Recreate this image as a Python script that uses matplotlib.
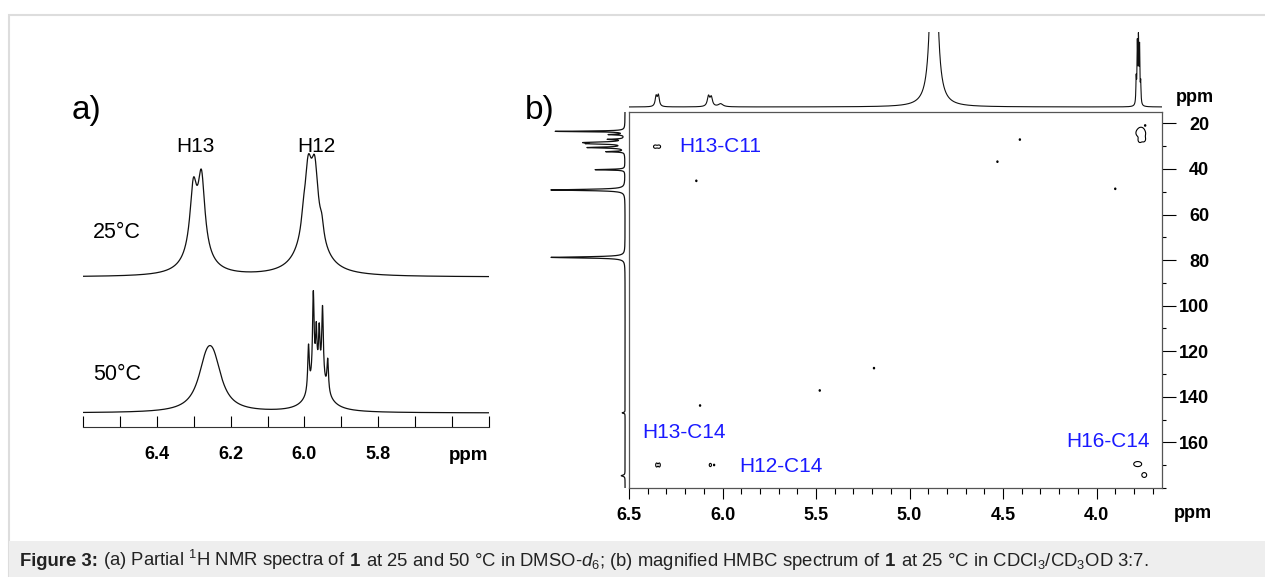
import numpy as np
import matplotlib
matplotlib.use("Agg")
import matplotlib.pyplot as plt
from matplotlib.patches import Rectangle
from matplotlib.ticker import MultipleLocator, FixedLocator

W, H = 1265, 577

plt.rcParams['font.family'] = ['Liberation Sans', 'DejaVu Sans']
plt.rcParams['mathtext.fontset'] = 'custom'
plt.rcParams['mathtext.rm'] = 'Liberation Sans'
plt.rcParams['mathtext.it'] = 'Liberation Sans:italic'
plt.rcParams['mathtext.bf'] = 'Liberation Sans:bold'

# ---- panel a: partial 1H spectra, peaks as (shift ppm, height, fwhm ppm)
a25_shift = [6.301, 6.279, 6.290, 5.990, 5.972, 5.981, 6.003, 5.953]
a25_height = [62, 72, 24, 60, 60, 45, 12, 14]
a25_width = [0.022, 0.022, 0.075, 0.022, 0.022, 0.075, 0.012, 0.012]

a50_shift = [6.266, 6.246, 5.989, 5.976, 5.968, 5.960, 5.951, 5.937, 5.963]
a50_height = [38, 38, 45, 85, 40, 40, 70, 32, 40]
a50_width = [0.055, 0.055, 0.005, 0.005, 0.004, 0.004, 0.005, 0.005, 0.05]

a_baselines = [150, 14]
a_temps = ["25\u00b0C", "50\u00b0C"]
a_peak_labels = ["H13", "H12"]
a_peak_label_ppm = [6.295, 5.969]
a_major = [6.4, 6.2, 6.0, 5.8]

# ---- panel b: HMBC, 1H projection on top
top_shift = [6.355, 6.343, 6.075, 6.060, 6.010, 4.870, 3.788, 3.782, 3.776, 3.770, 3.764]
top_height = [10, 11, 10, 9, 3, 400, 25, 58, 62, 56, 20]
top_width = [0.012, 0.012, 0.015, 0.015, 0.03, 0.025, 0.004, 0.004, 0.004, 0.004, 0.004]

# 13C projection on the left (shift ppm, length, fwhm ppm)
left_shift = [23.5, 24.9, 27.0, 28.4, 28.9, 30.6, 32.4, 40.3, 49.2, 78.8, 147.0, 174.6]
left_height = [72, 16, 16, 37, 30, 38, 19, 31, 77, 77, 3, 4]
left_width = [0.35, 0.35, 0.35, 0.6, 0.5, 0.5, 0.35, 0.35, 0.6, 0.6, 0.4, 0.6]

# cross peaks (1H ppm, 13C ppm, sigma 1H, sigma 13C)
cross_h = [6.360, 6.340, 6.352, 6.338, 6.065, 6.045, 3.780, 3.745,
           3.775, 3.752, 3.768, 3.748, 3.762, 3.740,
           6.14, 4.41, 4.53, 3.90, 5.19, 5.48, 6.12]
cross_c = [30.2, 30.2, 169.9, 169.9, 169.9, 169.9, 169.5, 174.3,
           24.2, 24.4, 27.3, 27.0, 22.8, 20.9,
           45.2, 27.1, 36.8, 48.7, 127.4, 137.2, 143.8]
cross_sh = [0.0075, 0.0075, 0.0045, 0.0045, 0.005, 0.003, 0.018, 0.011,
            0.012, 0.012, 0.008, 0.008, 0.010, 0.003,
            0.003, 0.003, 0.003, 0.003, 0.003, 0.003, 0.003]
cross_sc = [0.6, 0.6, 0.75, 0.75, 0.6, 0.3, 0.94, 0.9,
            1.2, 1.2, 0.9, 0.9, 0.8, 0.3,
            0.3, 0.3, 0.3, 0.3, 0.3, 0.3, 0.3]

cross_labels = ["H13-C11", "H13-C14", "H12-C14", "H16-C14"]
cross_label_pos = [(6.23, 30.2), (6.43, 155.7), (5.91, 170.7), (3.713, 159.7)]
cross_label_ha = ["left", "left", "left", "right"]

b_xticks = [6.5, 6.0, 5.5, 5.0, 4.5, 4.0]
b_yticks = [20, 40, 60, 80, 100, 120, 140, 160]

caption_runs = [
    ("Figure 3:", "bold"),
    (" (a) Partial $^{1}$H NMR spectra of", "normal"),
    (" 1", "bold"),
    (" at 25 and 50 \u00b0C in DMSO-$\\mathit{d}_{6}$; (b) magnified HMBC spectrum of", "normal"),
    (" 1", "bold"),
    (" at 25 \u00b0C in CDCl$_{3}$/CD$_{3}$OD 3:7.", "normal"),
]

LABEL_BLUE = "#1a1aff"


def box(x0, y0, x1, y1):
    return [x0 / W, 1 - y1 / H, (x1 - x0) / W, (y1 - y0) / H]


def lorentz(x, shifts, heights, widths):
    y = np.zeros_like(x)
    for s, h, w in zip(shifts, heights, widths):
        y += h / (1 + ((x - s) / (w / 2)) ** 2)
    return y


fig = plt.figure(figsize=(W / 100, H / 100), dpi=100)

# outer frame and caption band
fig.add_artist(Rectangle((9 / W, 0), 1.2, 1 - 15 / H, transform=fig.transFigure,
                         fill=False, edgecolor="#dddddd", linewidth=1.5))
fig.add_artist(Rectangle((9 / W, 0), 1.2, 1 - 541 / H, transform=fig.transFigure,
                         facecolor="#eeeeee", edgecolor="none"))

# ---------------- panel a
axa = fig.add_axes(box(83, 130, 489, 427))
x = np.linspace(6.6, 5.5, 3000)
spec25 = lorentz(x, a25_shift, a25_height, a25_width) + a_baselines[0]
spec50 = lorentz(x, a50_shift, a50_height, a50_width) + a_baselines[1]
axa.plot(x, spec25, color="#111111", lw=0.9)
axa.plot(x, spec50, color="#111111", lw=0.9)
axa.set_xlim(6.6, 5.5)
axa.set_ylim(0, 297)
for s in ["left", "right", "top"]:
    axa.spines[s].set_visible(False)
axa.spines["bottom"].set_color("#333333")
axa.set_yticks([])
axa.xaxis.set_major_locator(FixedLocator(a_major))
axa.xaxis.set_minor_locator(MultipleLocator(0.1))
axa.set_xticklabels([f"{v:.1f}" for v in a_major], fontweight="bold", fontsize=13)
axa.tick_params(axis="x", which="both", direction="in", length=8, width=0.8, pad=14)

for lab, p in zip(a_peak_labels, a_peak_label_ppm):
    axa.text(p, 280, lab, ha="center", va="center", fontsize=15)
fig.text(72 / W, 1 - 111 / H, "a)", fontsize=24, va="center")
fig.text(93 / W, 1 - 233 / H, a_temps[0], fontsize=15.5, va="center")
fig.text(93 / W, 1 - 374 / H, a_temps[1], fontsize=15.5, va="center")
fig.text(469 / W, 1 - 455 / H, "ppm", fontsize=13.5, fontweight="bold", ha="center", va="center")

# ---------------- panel b main 2D
xlim_b = (6.5, 3.65)
ylim_b = (180, 15)
axb = fig.add_axes(box(629, 112, 1162, 488))
hh = np.linspace(6.5, 3.65, 1500)
cc = np.linspace(15, 180, 1100)
HH, CC = np.meshgrid(hh, cc)
Z = np.zeros_like(HH)
for h0, c0, sh, sc in zip(cross_h, cross_c, cross_sh, cross_sc):
    Z += np.exp(-((HH - h0) ** 2 / (2 * sh ** 2) + (CC - c0) ** 2 / (2 * sc ** 2)))
axb.contour(HH, CC, Z, levels=[0.5], colors="k", linewidths=0.8)
axb.set_xlim(*xlim_b)
axb.set_ylim(*ylim_b)
for s in axb.spines.values():
    s.set_color("#555555")
    s.set_linewidth(0.9)
axb.yaxis.tick_right()
axb.xaxis.set_major_locator(FixedLocator(b_xticks))
axb.xaxis.set_minor_locator(MultipleLocator(0.1))
axb.yaxis.set_major_locator(FixedLocator(b_yticks))
axb.yaxis.set_minor_locator(MultipleLocator(10))
axb.set_xticklabels([f"{v:.1f}" for v in b_xticks], fontweight="bold", fontsize=13)
axb.set_yticklabels([str(v) for v in b_yticks], fontweight="bold", fontsize=13)
axb.tick_params(axis="x", which="major", direction="out", length=8, width=0.8, pad=6)
axb.tick_params(axis="x", which="minor", direction="out", length=4, width=0.8)
axb.tick_params(axis="y", which="major", direction="out", length=10, width=0.8, pad=24)
axb.tick_params(axis="y", which="minor", direction="out", length=3, width=0.8)
for t in axb.get_yticklabels():
    t.set_ha("right")

for lab, (px, py), ha in zip(cross_labels, cross_label_pos, cross_label_ha):
    axb.text(px, py, lab, color=LABEL_BLUE, fontsize=15, ha=ha, va="center")

fig.text(525 / W, 1 - 111 / H, "b)", fontsize=24, va="center")
fig.text(1195 / W, 1 - 98 / H, "ppm", fontsize=13, fontweight="bold", ha="center", va="center")
fig.text(1193 / W, 1 - 513 / H, "ppm", fontsize=13, fontweight="bold", ha="center", va="center")

# top 1H projection
axt = fig.add_axes(box(629, 32, 1162, 108))
xt = np.linspace(6.5, 3.65, 4000)
axt.plot(xt, lorentz(xt, top_shift, top_height, top_width) + 1, color="#111111", lw=0.8)
axt.set_xlim(*xlim_b)
axt.set_ylim(0, 76)
axt.axis("off")

# left 13C projection
axl = fig.add_axes(box(548, 112, 627, 488))
yl = np.linspace(15, 180, 4000)
axl.plot(lorentz(yl, left_shift, left_height, left_width), yl, color="#111111", lw=0.9)
axl.set_xlim(80, -2)
axl.set_ylim(*ylim_b)
axl.axis("off")

# caption, laid out run by run so bold parts sit inline
renderer = fig.canvas.get_renderer()
cx = 20
for txt, weight in caption_runs:
    t = fig.text(cx / W, 1 - 566 / H, txt, fontsize=13.3, fontweight=weight,
                 va="baseline", color="#222222")
    cx = t.get_window_extent(renderer).x1

fig.savefig("out.png", dpi=100)
